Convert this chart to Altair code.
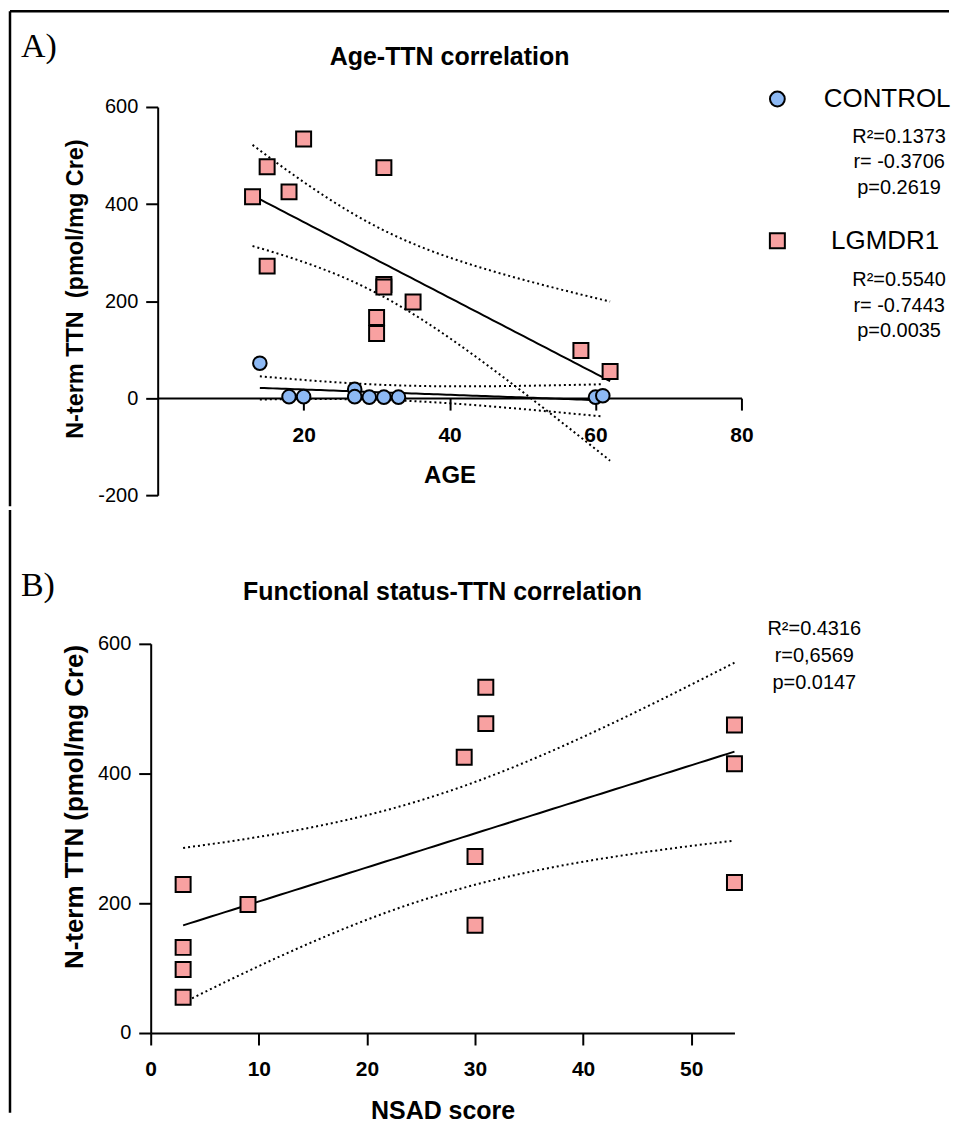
import altair as alt
import pandas as pd
import numpy as np

# ---------------- data ----------------
# Panel A: Age vs N-term TTN
ctrl_age = [14, 18, 20, 27, 27, 29, 31, 33, 60, 61]
ctrl_ttn = [72, 3, 3, 18, 3, 2, 2, 2, 2, 5]
lgmd_age = [13, 15, 20, 18, 15, 31, 31, 31, 35, 30, 30, 58, 62]
lgmd_ttn = [415, 477, 534, 425, 272, 475, 234, 229, 198, 166, 133, 98, 55]
# Panel B: NSAD score vs N-term TTN (LGMDR1)
nsad_score = [3, 3, 3, 3, 9, 29, 31, 31, 30, 30, 54, 54, 54]
nsad_ttn = [229, 132, 98, 55, 198, 425, 533, 477, 272, 166, 475, 415, 232]

ctrl_stats = ["R\u00b2=0.1373", "r= -0.3706", "p=0.2619"]
lgmd_stats = ["R\u00b2=0.5540", "r= -0.7443", "p=0.0035"]
b_stats = ["R\u00b2=0.4316", "r=0,6569", "p=0.0147"]
a_xticks = [20, 40, 60, 80]
a_yticks = [-200, 0, 200, 400, 600]
b_xticks = [0, 10, 20, 30, 40, 50]
b_yticks = [0, 200, 400, 600]

CTRL_FILL = "#8DB9F4"
LGMD_FILL = "#F8A1A1"
SANS = "Liberation Sans"
SERIF = "Liberation Serif"

# two-sided 95% t critical values by degrees of freedom
T975 = {8: 2.306, 11: 2.201}


def fit_lines(xs, ys, n_grid=80):
    """Least-squares line and 95% confidence band of the mean (as in GraphPad)."""
    x = np.array(xs, float)
    y = np.array(ys, float)
    n = len(x)
    xm, ym = x.mean(), y.mean()
    sxx = ((x - xm) ** 2).sum()
    b = ((x - xm) * (y - ym)).sum() / sxx
    a = ym - b * xm
    s = np.sqrt(((y - (a + b * x)) ** 2).sum() / (n - 2))
    g = np.linspace(x.min(), x.max(), n_grid)
    yh = a + b * g
    half = T975[n - 2] * s * np.sqrt(1.0 / n + (g - xm) ** 2 / sxx)
    fit = pd.DataFrame({"x": g, "y": yh})
    lo = pd.DataFrame({"x": g, "y": yh - half})
    hi = pd.DataFrame({"x": g, "y": yh + half})
    return fit, lo, hi


one = pd.DataFrame({"k": [0]})


def text(t, x, y, size, weight="normal", align="center", font=SANS):
    return alt.Chart(one).mark_text(
        text=t, font=font, fontSize=size, fontWeight=weight, align=align,
        baseline="middle", color="black"
    ).encode(x=alt.value(x), y=alt.value(y))


def make_panel(xenc, yenc, groups, width, height, extras):
    layers = []
    for xs, ys, fill, shape, size in groups:
        fit, lo, hi = fit_lines(xs, ys)
        for df, dash in ((lo, [2, 3]), (hi, [2, 3]), (fit, None)):
            kw = dict(color="black", strokeWidth=2)
            if dash:
                kw["strokeDash"] = dash
            layers.append(alt.Chart(df).mark_line(**kw).encode(x=xenc, y=yenc))
    for xs, ys, fill, shape, size in groups:
        df = pd.DataFrame({"x": xs, "y": ys})
        layers.append(
            alt.Chart(df).mark_point(
                shape=shape, filled=True, fill=fill, stroke="black",
                strokeWidth=2, size=size, opacity=1
            ).encode(x=xenc, y=yenc)
        )
    layers.extend(extras)
    return alt.layer(*layers).properties(width=width, height=height)


# ---------------- Panel A ----------------
WA, HA = 585, 389
zero_off = -(HA - HA * 600 / 800)

axA_x = alt.Axis(
    values=a_xticks, offset=zero_off, tickSize=12, tickWidth=2, domainWidth=2,
    domainColor="black", tickColor="black", labelColor="black", grid=False,
    labelFont=SANS, labelFontWeight="bold", labelFontSize=21, labelPadding=14,
    labelFlush=False, titleFont=SANS, titleFontWeight="bold", titleFontSize=24,
    titlePadding=19, titleColor="black", labelExpr="datum.value",
)
axA_y = alt.Axis(
    values=a_yticks, tickSize=12, tickWidth=2, domainWidth=2,
    domainColor="black", tickColor="black", labelColor="black", grid=False,
    labelFont=SANS, labelFontSize=20, labelPadding=8, labelFlush=False,
    titleFont=SANS, titleFontWeight="bold", titleFontSize=23.5, titlePadding=10,
    titleColor="black", titleY=182, labelExpr="datum.value",
)
xA = alt.X("x:Q", scale=alt.Scale(domain=[0, 80], nice=False, zero=False), axis=axA_x, title="AGE")
yA = alt.Y("y:Q", scale=alt.Scale(domain=[-200, 600], nice=False), axis=axA_y,
           title="N-term TTN\u00a0 (pmol/mg Cre)")

extrasA = [
    alt.Chart(one).mark_rule(color="black", strokeWidth=2.5).encode(
        x=alt.value(-148), y=alt.value(-96), y2=alt.value(400)),
    alt.Chart(one).mark_rule(color="black", strokeWidth=2.5).encode(
        x=alt.value(-148), x2=alt.value(793), y=alt.value(-96)),
    text("A)", -137, -60, 34, font=SERIF, align="left"),
    text("Age-TTN correlation", WA / 2, -50, 25, weight="bold"),
    alt.Chart(one).mark_point(shape="circle", filled=True, fill=CTRL_FILL, stroke="black",
                              strokeWidth=2, size=220, opacity=1).encode(
        x=alt.value(621), y=alt.value(-8)),
    alt.Chart(one).mark_point(shape="square", filled=True, fill=LGMD_FILL, stroke="black",
                              strokeWidth=2, size=225, opacity=1).encode(
        x=alt.value(621), y=alt.value(134)),
    text("CONTROL", 731, -8, 26),
    text("LGMDR1", 729, 134, 26),
]
for t, yy in zip(ctrl_stats, [30, 55, 81]):
    extrasA.append(text(t, 743, yy, 20))
for t, yy in zip(lgmd_stats, [173, 199, 225]):
    extrasA.append(text(t, 743, yy, 20))

panelA = make_panel(
    xA, yA,
    [(lgmd_age, lgmd_ttn, LGMD_FILL, "square", 225),
     (ctrl_age, ctrl_ttn, CTRL_FILL, "circle", 185)],
    WA, HA, extrasA,
)

# ---------------- Panel B ----------------
# Panel B's axes sit 7 px left of panel A's; the x range is shifted to match.
SHIFT = 7
WB, HB = 585, 390
axB_x = alt.Axis(
    values=b_xticks, tickSize=12, tickWidth=2, domainWidth=2,
    domainColor="black", tickColor="black", labelColor="black", grid=False,
    labelFont=SANS, labelFontWeight="bold", labelFontSize=21, labelPadding=14,
    labelFlush=False, titleFont=SANS, titleFontWeight="bold", titleFontSize=25,
    titlePadding=19, titleColor="black", labelExpr="datum.value",
)
axB_y = alt.Axis(
    values=b_yticks, offset=SHIFT, tickSize=12, tickWidth=2, domainWidth=2,
    domainColor="black", tickColor="black", labelColor="black", grid=False,
    labelFont=SANS, labelFontSize=20, labelPadding=8, labelFlush=False,
    titleFont=SANS, titleFontWeight="bold", titleFontSize=26, titlePadding=10,
    titleColor="black", titleY=163, labelExpr="datum.value",
)
xB = alt.X("x:Q", scale=alt.Scale(domain=[0, 54], nice=False, range=[-SHIFT, WB - SHIFT]),
           axis=axB_x, title="NSAD score")
yB = alt.Y("y:Q", scale=alt.Scale(domain=[0, 600], nice=False), axis=axB_y,
           title="N-term TTN (pmol/mg Cre)")

extrasB = [
    alt.Chart(one).mark_rule(color="black", strokeWidth=2.5).encode(
        x=alt.value(-148), y=alt.value(-134), y2=alt.value(470)),
    text("B)", -137, -58, 34, font=SERIF, align="left"),
    text("Functional status-TTN correlation", WB / 2 - SHIFT, -52, 25, weight="bold"),
]
for t, yy in zip(b_stats, [-15, 12, 39]):
    extrasB.append(text(t, 658, yy, 20))

panelB = make_panel(
    xB, yB,
    [(nsad_score, nsad_ttn, LGMD_FILL, "square", 225)],
    WB, HB, extrasB,
)

chart = alt.vconcat(panelA, panelB, spacing=0).properties(
    padding=0, background="white"
).configure_view(stroke=None)

chart.save("out.html", embed_options={"renderer": "svg", "actions": False})
